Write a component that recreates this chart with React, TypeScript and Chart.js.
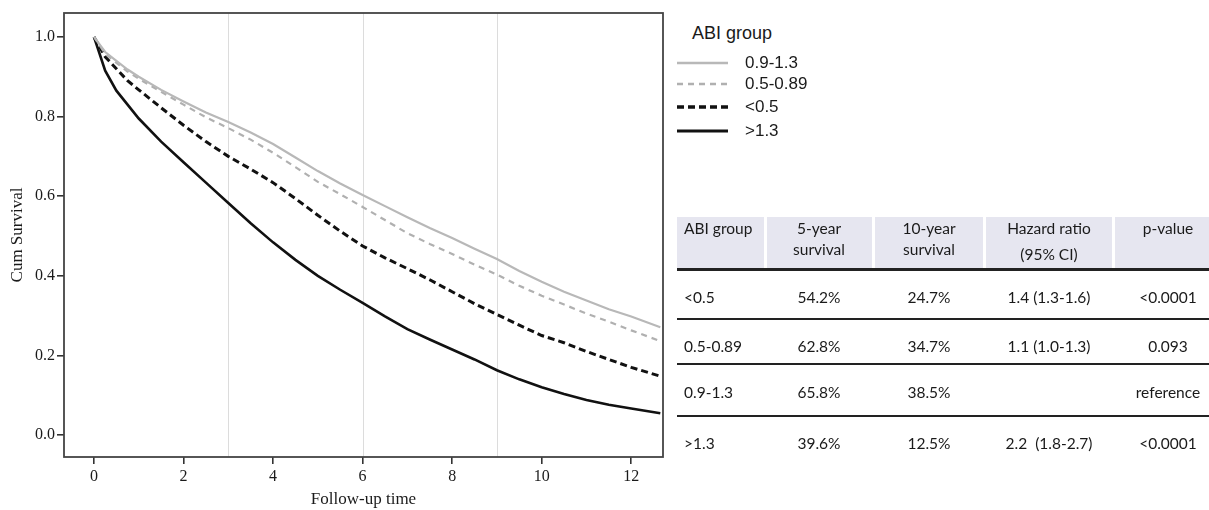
import React, { useEffect, useRef } from "react";
import { Chart, registerables } from "chart.js";

Chart.register(...registerables);

// ---------------- data ----------------
const times = [0, 0.25, 0.5, 0.75, 1, 1.5, 2, 2.5, 3, 3.5, 4, 4.5, 5, 5.5, 6, 6.5, 7, 7.5, 8, 8.5, 9, 9.5, 10, 10.5, 11, 11.5, 12, 12.65];
const surv09to13 = [1.0, 0.962, 0.94, 0.918, 0.9, 0.867, 0.838, 0.81, 0.786, 0.76, 0.731, 0.697, 0.663, 0.632, 0.603, 0.575, 0.547, 0.52, 0.495, 0.468, 0.442, 0.412, 0.385, 0.36, 0.338, 0.316, 0.298, 0.271];
const surv05to089 = [1.0, 0.958, 0.935, 0.913, 0.895, 0.862, 0.83, 0.798, 0.771, 0.742, 0.709, 0.673, 0.636, 0.605, 0.573, 0.54, 0.507, 0.48, 0.455, 0.428, 0.403, 0.375, 0.35, 0.328, 0.305, 0.285, 0.263, 0.236];
const survBelow05 = [1.0, 0.95, 0.92, 0.89, 0.867, 0.822, 0.778, 0.737, 0.7, 0.668, 0.634, 0.594, 0.552, 0.512, 0.475, 0.445, 0.418, 0.39, 0.36, 0.33, 0.303, 0.276, 0.25, 0.232, 0.21, 0.19, 0.17, 0.148];
const survAbove13 = [1.0, 0.915, 0.865, 0.83, 0.795, 0.737, 0.685, 0.634, 0.583, 0.532, 0.484, 0.44, 0.4, 0.365, 0.332, 0.298, 0.266, 0.24, 0.215, 0.19, 0.163, 0.14, 0.12, 0.103, 0.088, 0.076, 0.067, 0.055];

const seriesLabels = ["0.9-1.3", "0.5-0.89", "<0.5", ">1.3"];
const seriesValues = [surv09to13, surv05to089, survBelow05, survAbove13];

const xTicks = [0, 2, 4, 6, 8, 10, 12];
const yTicks = [0, 0.2, 0.4, 0.6, 0.8, 1.0];
const refLineTimes = [3, 6, 9];

const legendTitle = "ABI group";
const tableColumns = ["ABI group", "5-year\nsurvival", "10-year\nsurvival", "Hazard ratio\n(95% CI)", "p-value"];
const tableGroups = ["<0.5", "0.5-0.89", "0.9-1.3", ">1.3"];
const fiveYearSurvival = ["54.2%", "62.8%", "65.8%", "39.6%"];
const tenYearSurvival = ["24.7%", "34.7%", "38.5%", "12.5%"];
const hazardRatios = ["1.4 (1.3-1.6)", "1.1 (1.0-1.3)", "", "2.2  (1.8-2.7)"];
const pValues = ["<0.0001", "0.093", "reference", "<0.0001"];

// ---------------- styles ----------------
const seriesStyles = [
  { color: "#b8b8b8", width: 2.2, dash: [] as number[] },
  { color: "#b0b0b0", width: 2.2, dash: [6, 5] },
  { color: "#111111", width: 3, dash: [7, 4] },
  { color: "#111111", width: 2.6, dash: [] as number[] },
];

const serif = "'Liberation Serif', 'DejaVu Serif', serif";
const sans = "'Liberation Sans', Arial, sans-serif";
const tableFont = "Lato, 'Open Sans', sans-serif";

const plotFramePlugin = {
  id: "plotFrame",
  beforeDatasetsDraw(chart: any) {
    const { ctx, chartArea, scales } = chart;
    ctx.save();
    ctx.strokeStyle = "#dcdcdc";
    ctx.lineWidth = 1;
    refLineTimes.forEach((t) => {
      const x = Math.round(scales.x.getPixelForValue(t)) + 0.5;
      ctx.beginPath();
      ctx.moveTo(x, chartArea.top);
      ctx.lineTo(x, chartArea.bottom);
      ctx.stroke();
    });
    ctx.restore();
  },
  afterDraw(chart: any) {
    const { ctx, chartArea } = chart;
    ctx.save();
    ctx.strokeStyle = "#444";
    ctx.lineWidth = 1.8;
    ctx.strokeRect(chartArea.left, chartArea.top, chartArea.right - chartArea.left, chartArea.bottom - chartArea.top);
    ctx.restore();
  },
};

function SurvivalChart() {
  const ref = useRef<HTMLCanvasElement | null>(null);
  useEffect(() => {
    if (!ref.current) return;
    const datasets = seriesLabels.map((label, i) => ({
      label,
      data: times.map((t, j) => ({ x: t, y: seriesValues[i][j] })),
      borderColor: seriesStyles[i].color,
      borderWidth: seriesStyles[i].width,
      borderDash: seriesStyles[i].dash,
      pointRadius: 0,
      tension: 0,
      fill: false,
    }));
    const chart = new Chart(ref.current, {
      type: "line",
      data: { datasets },
      plugins: [plotFramePlugin],
      options: {
        animation: false,
        responsive: false,
        maintainAspectRatio: false,
        devicePixelRatio: 1,
        layout: { padding: { left: 0, right: 7, top: 13, bottom: 0 } },
        plugins: { legend: { display: false }, tooltip: { enabled: false } },
        scales: {
          x: {
            type: "linear",
            bounds: "data",
            min: -0.67,
            max: 12.71,
            afterBuildTicks: (s: any) => {
              s.ticks = xTicks.map((v) => ({ value: v }));
            },
            afterFit: (s: any) => {
              s.height = 53;
            },
            ticks: {
              autoSkip: false,
              maxRotation: 0,
              padding: 3,
              color: "#1a1a1a",
              font: { family: serif, size: 16 },
              callback: (v: any) => String(v),
            },
            grid: { drawOnChartArea: false, drawTicks: true, tickLength: 7, color: "#333", lineWidth: 1.6 },
            border: { display: false },
            title: {
              display: true,
              text: "Follow-up time",
              color: "#1a1a1a",
              font: { family: serif, size: 17 },
              padding: { top: 0, bottom: 0 },
            },
          },
          y: {
            type: "linear",
            bounds: "data",
            min: -0.055,
            max: 1.06,
            afterBuildTicks: (s: any) => {
              s.ticks = yTicks.map((v) => ({ value: v }));
            },
            afterFit: (s: any) => {
              s.width = 64;
            },
            ticks: {
              autoSkip: false,
              padding: 2,
              color: "#1a1a1a",
              font: { family: serif, size: 16 },
              callback: (v: any) => Number(v).toFixed(1),
            },
            grid: { drawOnChartArea: false, drawTicks: true, tickLength: 7, color: "#333", lineWidth: 1.6 },
            border: { display: false },
            title: {
              display: true,
              text: "Cum Survival",
              color: "#1a1a1a",
              font: { family: serif, size: 17 },
              padding: { top: 7, bottom: 0 },
            },
          },
        },
      } as any,
    });
    return () => chart.destroy();
  }, []);
  return <canvas ref={ref} width={670} height={510} style={{ position: "absolute", left: 0, top: 0 }} />;
}

// layout constants for the legend/table
const legendLineX = [677, 728];
const legendRowY = [63, 84, 107, 131];
const colEdges = [677, 765, 873, 984, 1113, 1209];
const colCenters = [684, 819, 929, 1049, 1168];
const headerTop = 217;
const headerBottom = 268;
const headerLineY = [228, 249];
const rowCenters = [296.5, 345.5, 392, 443];
const rowLines = [
  { y: 268, h: 2.5 },
  { y: 318, h: 2 },
  { y: 363, h: 1.8 },
  { y: 415, h: 2 },
];

function Txt(props: { x: number; y: number; text: string; left?: boolean; style?: any }) {
  return (
    <div
      style={{
        position: "absolute",
        left: props.x,
        top: props.y,
        transform: props.left ? "translate(0,-50%)" : "translate(-50%,-50%)",
        whiteSpace: "pre",
        ...props.style,
      }}
    >
      {props.text}
    </div>
  );
}

export default function App() {
  const cellStyle = { fontFamily: tableFont, fontSize: 15.5, lineHeight: "18px", color: "#1a1a1a" };
  const rows = tableGroups.map((g, i) => [g, fiveYearSurvival[i], tenYearSurvival[i], hazardRatios[i], pValues[i]]);
  return (
    <div style={{ position: "absolute", left: 0, top: 0, width: 1209, height: 510, background: "#fff", overflow: "hidden" }}>
      <SurvivalChart />
      {/* legend */}
      <Txt x={692} y={33} text={legendTitle} left style={{ fontFamily: sans, fontSize: 18, lineHeight: "20px", color: "#1a1a1a" }} />
      <svg style={{ position: "absolute", left: 0, top: 0 }} width={1209} height={510}>
        {seriesLabels.map((l, i) => (
          <line
            key={l}
            x1={legendLineX[0]}
            x2={legendLineX[1]}
            y1={legendRowY[i]}
            y2={legendRowY[i]}
            stroke={seriesStyles[i].color}
            strokeWidth={seriesStyles[i].width + 0.3}
            strokeDasharray={seriesStyles[i].dash.length ? seriesStyles[i].dash.join(",") : undefined}
          />
        ))}
      </svg>
      {seriesLabels.map((l, i) => (
        <Txt key={l} x={745} y={legendRowY[i]} text={l} left style={{ fontFamily: sans, fontSize: 17, lineHeight: "20px", color: "#1a1a1a" }} />
      ))}
      {/* table header band */}
      {tableColumns.map((c, i) => (
        <div
          key={"bg" + i}
          style={{
            position: "absolute",
            left: colEdges[i] + (i === 0 ? 0 : 1.5),
            top: headerTop,
            width: colEdges[i + 1] - colEdges[i] - (i === 0 ? 1.5 : 3) + (i === tableColumns.length - 1 ? 1.5 : 0),
            height: headerBottom - headerTop,
            background: "#e6e6f0",
          }}
        />
      ))}
      {tableColumns.map((c, i) => {
        const parts = c.split("\n");
        return parts.map((p, k) => (
          <Txt
            key={"h" + i + "-" + k}
            x={colCenters[i]}
            y={k === 0 ? headerLineY[0] : headerLineY[1] + (i === 3 ? 5 : 0)}
            text={p}
            left={i === 0}
            style={cellStyle}
          />
        ));
      })}
      {rowLines.map((r, i) => (
        <div key={"rl" + i} style={{ position: "absolute", left: colEdges[0], top: r.y, width: 1209 - colEdges[0], height: r.h, background: "#222" }} />
      ))}
      {rows.map((row, ri) =>
        row.map((cell, ci) => (
          <Txt key={"c" + ri + "-" + ci} x={colCenters[ci]} y={rowCenters[ri]} text={cell} left={ci === 0} style={cellStyle} />
        ))
      )}
    </div>
  );
}
